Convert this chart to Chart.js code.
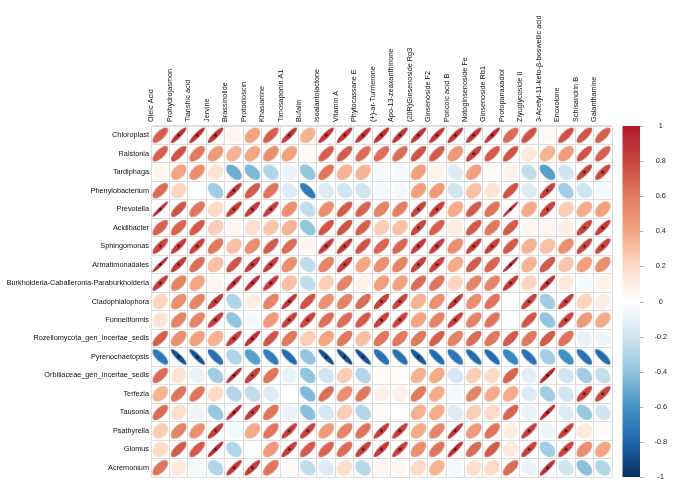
<!DOCTYPE html>
<html>
<head>
<meta charset="utf-8">
<script src="https://cdn.jsdelivr.net/npm/chart.js@4.4.0/dist/chart.umd.min.js"></script>
<style>
  html, body { margin: 0; padding: 0; background: #fff; }
</style>
</head>
<body>
<canvas id="myChart" width="685" height="496"></canvas>
<script>
const rowLabels = [
    'Chloroplast', 'Ralstonia', 'Tardiphaga', 'Phenylobacterium', 'Prevotella',
    'Acidibacter', 'Sphingomonas', 'Armatimonadales', 'Burkholderia-Caballeronia-Paraburkholderia',
    'Cladophialophora', 'Funneliformis', 'Rozellomycota_gen_Incertae_sedis', 'Pyrenochaetopsis',
    'Orbiliaceae_gen_Incertae_sedis', 'Terfezia', 'Tausonia', 'Psathyrella', 'Glomus', 'Acremonium'
];
const colLabels = [
    'Oleic Acid', 'Prohydrojasmon', 'Tianshic acid', 'Jervine', 'Brassinolide', 'Protodioscin',
    'Khasianine', 'Timosaponin A1', 'Bufalin', 'Isoalantolactone', 'Vitamin A', 'Phytocassane E',
    '(+)-ar-Turmerone', 'Apo-13-zeaxanthinone', '(20R)Ginsenoside Rg3', 'Ginsenoside F2',
    'Poricoic acid B', 'Notoginsenoside Fe', 'Ginsenoside Rb1', 'Protopanaxadiol',
    'Ziyuglycoside II', '3-Acetyl-11-keto-β-boswellic acid', 'Enoxolone', 'Schisandrin B', 'Galanthamine'
];
// correlation per row (same order as rowLabels), one value per column
const corr = [
    [0.7, 0.9, 0.9, 0.88, 0.05, 0.4, 0.7, 0.88, 0.35, 0.88, 0.88, 0.88, 0.88, 0.88, 0.88, 0.88, 0.88, 0.88, 0.9, 0.65, 0.75, 0.03, 0.76, 0.74, 0.7],
    [0.7, 0.75, 0.6, 0.45, 0.35, 0.4, 0.5, 0.42, 0.02, 0.7, 0.72, 0.65, 0.65, 0.65, 0.75, 0.72, 0.45, 0.82, 0.72, 0.75, 0.12, 0.35, 0.45, 0.75, 0.7],
    [0.05, 0.4, 0.5, 0.15, -0.5, -0.45, -0.3, -0.1, -0.4, 0.62, 0.35, 0.35, -0.05, -0.05, 0.42, 0.08, -0.15, 0.42, 0.02, 0.08, -0.25, -0.55, -0.2, 0.82, 0.8],
    [0.65, 0.22, 0.0, -0.35, 0.88, 0.72, 0.62, -0.15, -0.7, -0.15, -0.2, -0.2, -0.05, -0.05, 0.42, 0.45, -0.2, 0.3, 0.15, 0.75, -0.15, 0.82, -0.35, -0.2, -0.05],
    [0.95, 0.75, 0.62, 0.2, 0.85, 0.85, 0.85, 0.5, -0.25, 0.5, 0.72, 0.68, 0.55, 0.58, 0.82, 0.82, 0.38, 0.72, 0.62, 0.96, 0.38, 0.8, 0.25, 0.38, 0.42],
    [0.68, 0.68, 0.72, 0.25, 0.05, 0.18, 0.28, 0.35, -0.4, 0.75, 0.75, 0.7, 0.25, 0.3, 0.8, 0.7, 0.1, 0.72, 0.6, 0.72, 0.05, 0.05, 0.1, 0.8, 0.85],
    [0.8, 0.85, 0.82, 0.6, 0.3, 0.5, 0.72, 0.65, 0.05, 0.85, 0.85, 0.75, 0.68, 0.68, 0.85, 0.85, 0.5, 0.85, 0.82, 0.72, 0.35, 0.3, 0.5, 0.82, 0.82],
    [0.95, 0.85, 0.65, 0.3, 0.75, 0.85, 0.85, 0.5, -0.25, 0.55, 0.82, 0.4, 0.5, 0.55, 0.82, 0.82, 0.38, 0.72, 0.68, 0.95, 0.35, 0.72, 0.28, 0.42, 0.5],
    [0.85, 0.55, 0.4, 0.05, 0.9, 0.9, 0.85, 0.3, -0.25, 0.25, 0.55, 0.08, 0.42, 0.42, 0.65, 0.62, 0.22, 0.55, 0.55, 0.85, 0.22, 0.88, 0.12, -0.05, 0.08],
    [0.22, 0.5, 0.55, 0.85, -0.3, 0.1, 0.55, 0.88, 0.75, 0.5, 0.55, 0.65, 0.82, 0.82, 0.35, 0.5, 0.88, 0.5, 0.62, 0.0, 0.82, -0.35, 0.85, 0.22, 0.1],
    [0.15, 0.55, 0.55, 0.85, -0.4, -0.05, 0.45, 0.82, 0.8, 0.65, 0.65, 0.72, 0.82, 0.82, 0.4, 0.55, 0.85, 0.55, 0.62, -0.02, 0.75, -0.4, 0.82, 0.45, 0.38],
    [0.7, 0.5, 0.42, 0.35, 0.85, 0.88, 0.75, 0.6, 0.25, 0.4, 0.6, 0.3, 0.6, 0.6, 0.6, 0.7, 0.55, 0.65, 0.6, 0.72, 0.6, 0.72, 0.62, -0.1, -0.08],
    [-0.72, -0.88, -0.88, -0.75, -0.3, -0.55, -0.7, -0.78, -0.4, -0.88, -0.88, -0.88, -0.75, -0.75, -0.85, -0.78, -0.72, -0.78, -0.78, -0.65, -0.75, -0.35, -0.62, -0.75, -0.78],
    [0.65, 0.15, -0.1, -0.35, 0.92, 0.82, 0.62, -0.1, -0.4, -0.2, 0.25, -0.3, 0.02, 0.02, 0.35, 0.38, -0.18, 0.25, 0.2, 0.68, -0.12, 0.92, -0.2, -0.35, -0.25],
    [0.35, 0.62, 0.62, 0.2, -0.3, -0.25, -0.15, 0.0, -0.45, 0.65, 0.5, 0.6, 0.08, 0.08, 0.6, 0.38, -0.05, 0.55, 0.38, 0.38, -0.15, -0.35, -0.2, 0.8, 0.8],
    [0.65, 0.18, -0.08, -0.38, 0.92, 0.85, 0.62, -0.1, -0.42, -0.18, 0.25, -0.3, 0.02, 0.0, 0.35, 0.38, -0.15, 0.25, 0.2, 0.68, -0.1, 0.92, -0.15, -0.38, -0.2],
    [0.25, 0.55, 0.5, 0.85, -0.05, 0.38, 0.62, 0.85, 0.82, 0.45, 0.55, 0.62, 0.85, 0.85, 0.38, 0.55, 0.9, 0.45, 0.62, 0.1, 0.85, -0.08, 0.85, 0.12, 0.02],
    [0.2, 0.72, 0.72, 0.92, -0.3, 0.0, 0.45, 0.85, 0.72, 0.68, 0.65, 0.82, 0.85, 0.85, 0.5, 0.62, 0.9, 0.65, 0.72, 0.12, 0.82, -0.35, 0.82, 0.5, 0.4],
    [0.62, 0.12, -0.05, -0.3, 0.88, 0.85, 0.62, 0.03, -0.25, -0.15, 0.18, -0.28, 0.05, 0.05, 0.2, 0.35, -0.05, 0.18, 0.2, 0.65, -0.1, 0.9, -0.2, -0.42, -0.3]
];

// colour ramp (value -> colour), blue negative, red positive
const rampStops = [
    [-1, '#053061'], [-0.8, '#2166AC'], [-0.6, '#4393C3'], [-0.4, '#92C5DE'], [-0.2, '#D1E5F0'],
    [0, '#FFFFFF'], [0.2, '#FDDBC7'], [0.4, '#F4A582'], [0.6, '#E07A5F'], [0.8, '#C9463F'], [1, '#B2182B']
];

function hex2rgb(h) {
    return [parseInt(h.slice(1, 3), 16), parseInt(h.slice(3, 5), 16), parseInt(h.slice(5, 7), 16)];
}
function colorFor(v) {
    for (let i = 1; i < rampStops.length; i++) {
        if (v <= rampStops[i][0]) {
            const a = rampStops[i - 1], b = rampStops[i];
            const t = (v - a[0]) / (b[0] - a[0]);
            const ca = hex2rgb(a[1]), cb = hex2rgb(b[1]);
            const c = ca.map((x, k) => Math.round(x + (cb[k] - x) * t));
            return 'rgb(' + c.join(',') + ')';
        }
    }
    return rampStops[rampStops.length - 1][1];
}

// ellipse like corrplot: axes from acos(r), drawn on a small canvas used as point style
const imgCache = {};
function ellipseImage(r, cell) {
    const key = r.toFixed(3) + '_' + cell.toFixed(2);
    if (imgCache[key]) return imgCache[key];
    const size = Math.ceil(cell) + 2;
    const c = document.createElement('canvas');
    c.width = size;
    c.height = size;
    const g = c.getContext('2d');
    const d = Math.acos(Math.max(-1, Math.min(1, r)));
    const a = 0.85 * cell * Math.cos(d / 2) / Math.SQRT2;
    const b = Math.max(0.6, 0.85 * cell * Math.sin(d / 2) / Math.SQRT2);
    g.translate(size / 2, size / 2);
    g.rotate(-Math.PI / 4);
    g.beginPath();
    g.ellipse(0, 0, a, b, 0, 0, Math.PI * 2);
    g.fillStyle = colorFor(r);
    g.fill();
    if (Math.abs(r) >= 0.8) {
        g.beginPath();
        g.arc(0, 0, 1.1, 0, Math.PI * 2);
        g.fillStyle = '#000';
        g.fill();
    }
    imgCache[key] = c;
    return c;
}

const points = [];
rowLabels.forEach((rl, i) => {
    colLabels.forEach((cl, j) => {
        points.push({ x: cl, y: rl, r: corr[i][j] });
    });
});

const labelFont = { family: "'Liberation Sans', Arial, sans-serif", size: 7.3 };
const gridColor = '#dedede';

const colorBar = {
    id: 'colorBar',
    afterDraw(chart) {
        const s = chart.scales.cb;
        const ctx = chart.ctx;
        const x0 = s.left + 10.5, w = 17.5;
        const grad = ctx.createLinearGradient(0, s.bottom, 0, s.top);
        rampStops.forEach(st => grad.addColorStop((st[0] + 1) / 2, st[1]));
        ctx.save();
        ctx.fillStyle = grad;
        ctx.fillRect(x0, s.top, w, s.bottom - s.top);
        ctx.strokeStyle = '#aaaaaa';
        ctx.lineWidth = 1;
        s.ticks.forEach(t => {
            const y = Math.round(s.getPixelForValue(t.value)) + 0.5;
            ctx.beginPath();
            ctx.moveTo(x0 + w, y);
            ctx.lineTo(x0 + w + 3.5, y);
            ctx.stroke();
        });
        ctx.restore();
    }
};

const ctx = document.getElementById('myChart').getContext('2d');
new Chart(ctx, {
    type: 'scatter',
    data: {
        datasets: [{
            data: points,
            pointRadius: 9,
            pointStyle: function (c) {
                const cell = c.chart.scales.x.width / colLabels.length;
                return ellipseImage(c.raw.r, cell);
            }
        }]
    },
    options: {
        responsive: false,
        devicePixelRatio: 1,
        animation: false,
        events: [],
        layout: { padding: { left: 0, right: 0, top: 0, bottom: 19 } },
        plugins: { legend: { display: false }, tooltip: { enabled: false } },
        scales: {
            x: {
                type: 'category',
                labels: colLabels,
                position: 'top',
                offset: true,
                grid: { offset: true, color: gridColor, drawTicks: false },
                border: { color: gridColor },
                ticks: { autoSkip: false, minRotation: 90, maxRotation: 90, padding: 4, color: '#111', font: labelFont },
                afterFit(s) { s.height = 126; }
            },
            y: {
                type: 'category',
                labels: rowLabels,
                offset: true,
                grid: { offset: true, color: gridColor, drawTicks: false },
                border: { color: gridColor },
                ticks: { autoSkip: false, padding: 2, color: '#111', font: labelFont },
                afterFit(s) { s.width = 151; s.paddingTop = 0; s.paddingBottom = 0; }
            },
            cb: {
                type: 'linear',
                position: 'right',
                min: -1,
                max: 1,
                grid: { display: false, drawTicks: false },
                border: { display: false },
                ticks: {
                    stepSize: 0.2,
                    padding: 42.5,
                    crossAlign: 'center',
                    color: '#222',
                    font: labelFont,
                    callback: v => String(Math.round(v * 10) / 10)
                },
                afterFit(s) { s.width = 73; s.paddingTop = 0; s.paddingBottom = 0; }
            }
        }
    },
    plugins: [colorBar]
});
</script>
</body>
</html>
